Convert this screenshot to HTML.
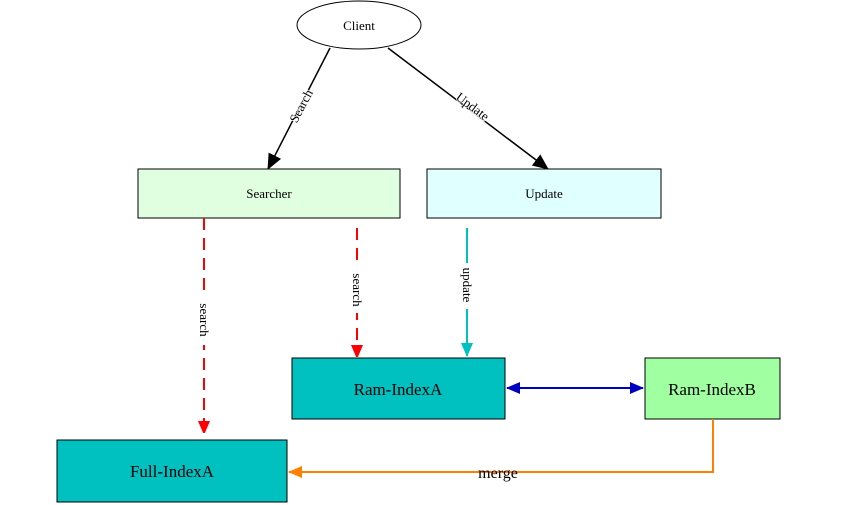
<!DOCTYPE html>
<html><head><style>body{margin:0;background:#fff}svg{display:block}</style></head><body>
<svg width="865" height="505" xmlns="http://www.w3.org/2000/svg" font-family="Liberation Serif, serif">
<defs>
<marker id="k" markerWidth="16" markerHeight="16" refX="15" refY="7" orient="auto" markerUnits="userSpaceOnUse"><path d="M0,0L16,7L0,14z" fill="#000"/></marker>
<marker id="r" markerWidth="12" markerHeight="14" refX="11" refY="6" orient="auto" markerUnits="userSpaceOnUse"><path d="M0,0L14,6L0,12z" fill="#f00"/></marker>
<marker id="c" markerWidth="14" markerHeight="14" refX="13" refY="6" orient="auto" markerUnits="userSpaceOnUse"><path d="M0,0L14,6L0,12z" fill="#00c0c0"/></marker>
<marker id="b" markerWidth="14" markerHeight="14" refX="13" refY="6" orient="auto-start-reverse" markerUnits="userSpaceOnUse"><path d="M0,0L14,6L0,12z" fill="#0000c0"/></marker>
<marker id="o" markerWidth="14" markerHeight="14" refX="13" refY="6" orient="auto" markerUnits="userSpaceOnUse"><path d="M0,0L14,6L0,12z" fill="#ff8000"/></marker>
</defs>
<ellipse cx="359" cy="25" rx="62" ry="24" fill="#fff" stroke="#000"/>
<text x="359" y="30" font-size="13" text-anchor="middle">Client</text>
<line x1="330" y1="48" x2="268" y2="169" stroke="#000" stroke-width="1.5" marker-end="url(#k)"/>
<line x1="388" y1="48" x2="548" y2="169" stroke="#000" stroke-width="1.5" marker-end="url(#k)"/>
<text transform="translate(305,108) rotate(-62)" font-size="13" text-anchor="middle" fill="#000" stroke="#fff" stroke-width="1.5" paint-order="stroke">Search</text>
<text transform="translate(470,110) rotate(37)" font-size="13" text-anchor="middle" fill="#000" stroke="#fff" stroke-width="1.5" paint-order="stroke">Update</text>
<rect x="138" y="169" width="262" height="49" fill="#e0ffe0" stroke="#000"/>
<text x="269" y="198" font-size="13" text-anchor="middle">Searcher</text>
<rect x="427" y="169" width="234" height="49" fill="#e0ffff" stroke="#000"/>
<text x="544" y="198" font-size="13" text-anchor="middle">Update</text>
<line x1="204" y1="218" x2="204" y2="432" stroke="#f00" stroke-width="2" stroke-dasharray="12,8" marker-end="url(#r)"/>
<line x1="357" y1="228" x2="357" y2="356" stroke="#f00" stroke-width="2" stroke-dasharray="12,8" marker-end="url(#r)"/>
<line x1="467" y1="228" x2="467" y2="356" stroke="#00c0c0" stroke-width="2" marker-end="url(#c)"/>
<rect x="197" y="295" width="14" height="50" fill="#fff"/>
<rect x="350" y="267" width="14" height="46" fill="#fff"/>
<rect x="460" y="263" width="14" height="46" fill="#fff"/>
<text transform="translate(200,320) rotate(90)" font-size="13" text-anchor="middle">search</text>
<text transform="translate(353,290) rotate(90)" font-size="13" text-anchor="middle">search</text>
<text transform="translate(463,285) rotate(90)" font-size="13" text-anchor="middle">update</text>
<rect x="292" y="358" width="213" height="61" fill="#00c0c0" stroke="#000"/>
<text x="398" y="395" font-size="17" text-anchor="middle">Ram-IndexA</text>
<rect x="645" y="358" width="135" height="61" fill="#a0ffa0" stroke="#000"/>
<text x="712" y="395" font-size="17" text-anchor="middle">Ram-IndexB</text>
<line x1="507" y1="388" x2="643" y2="388" stroke="#0000c0" stroke-width="2" marker-start="url(#b)" marker-end="url(#b)"/>
<rect x="57" y="440" width="230" height="62" fill="#00c0c0" stroke="#000"/>
<text x="172" y="477" font-size="17" text-anchor="middle">Full-IndexA</text>
<polyline points="713,419 713,472 289,472" fill="none" stroke="#ff8000" stroke-width="2" marker-end="url(#o)"/>
<text x="498" y="478" font-size="16" text-anchor="middle">merge</text>
</svg>
</body></html>
